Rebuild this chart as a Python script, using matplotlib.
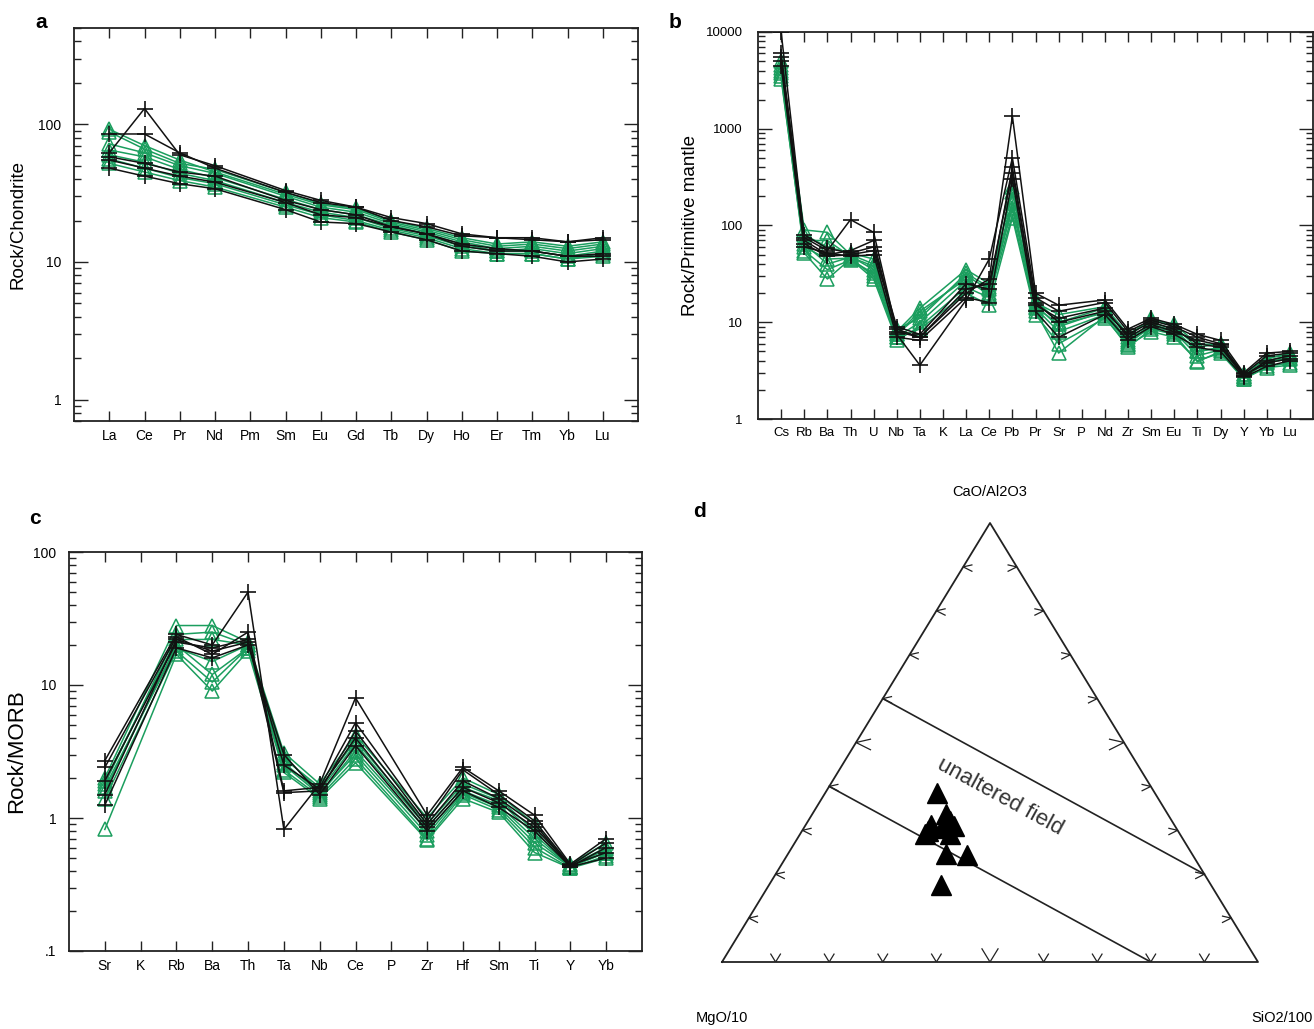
import numpy as np
import matplotlib
matplotlib.use("Agg")
import matplotlib.pyplot as plt
from matplotlib.ticker import NullLocator, LogLocator

plt.rcParams['font.family'] = ['Liberation Sans', 'DejaVu Sans']

nan = np.nan
GREEN = '#1b9e5e'

# --- a) chondrite-normalised REE ---
ree = ['La', 'Ce', 'Pr', 'Nd', 'Pm', 'Sm', 'Eu', 'Gd', 'Tb', 'Dy', 'Ho', 'Er', 'Tm', 'Yb', 'Lu']
ree_black = [
    [62, 130, 60, 50, nan, 33, 28, 25, 21, 19, 16, 15, 15, 14, 15],
    [85, 85, 62, 48, nan, 32, 27, 25, 20, 18, 15.5, 15, 14.5, 14, 14.5],
    [55, 48, 42, 38, nan, 27, 22, 21, 18, 16, 13, 12, 12, 11, 11],
    [48, 42, 37, 34, nan, 24, 19.5, 19, 16.5, 14.5, 12, 11.5, 11, 10, 10.5],
    [58, 52, 45, 42, nan, 28, 24, 22, 18, 16, 13.5, 12.5, 12, 11, 11.5],
]
ree_green = [
    [92, 70, 55, 45, nan, 31, 26, 24, 19.5, 17, 14.5, 13, 13.5, 12.5, 13.5],
    [72, 62, 50, 44, nan, 30, 25, 23, 19, 16.5, 14, 12.5, 13, 12, 13],
    [65, 58, 47, 41, nan, 28.5, 24, 22, 18.5, 16, 13.5, 12, 12.5, 11.5, 12.5],
    [60, 53, 44, 39, nan, 27, 23, 21, 17.5, 15.5, 13, 12, 12, 11, 12],
    [56, 48, 41, 37, nan, 26, 22, 20, 17, 15, 12.5, 11.5, 11.5, 10.5, 11.5],
    [52, 45, 39, 35, nan, 25, 21, 19.5, 16.5, 14.5, 12, 11.5, 11.5, 10.5, 11],
    [88, 66, 52, 47, nan, 32, 26.5, 24.5, 20, 17.5, 15, 13.5, 14, 13, 14],
]

# --- b) primitive-mantle-normalised ---
pm_el = ['Cs', 'Rb', 'Ba', 'Th', 'U', 'Nb', 'Ta', 'K', 'La', 'Ce', 'Pb', 'Pr', 'Sr', 'P',
         'Nd', 'Zr', 'Sm', 'Eu', 'Ti', 'Dy', 'Y', 'Yb', 'Lu']
pm_black = [
    [10000, 75, 55, 115, 85, 8, 7, nan, 20, 28, 1350, 20, 15, nan, 17, 8.5, 11, 9.5, 7.5, 6.5, 3, 4.8, 5],
    [6000, 70, 50, 55, 70, 7.5, 3.6, nan, 17, 45, 500, 18, 13, nan, 16, 8, 10.5, 9, 7, 6, 2.9, 4.5, 4.8],
    [5000, 65, 48, 50, 55, 8.5, 7, nan, 22, 25, 350, 16, 10, nan, 13, 7.5, 10, 8.5, 6, 5.5, 2.8, 4, 4.5],
    [4500, 60, 52, 48, 50, 7, 6.5, nan, 18, 16, 300, 13, 7, nan, 12, 6.5, 9, 7.5, 5.5, 5, 2.7, 3.5, 4],
    [5500, 80, 58, 52, 60, 9, 7.5, nan, 25, 22, 400, 15, 11, nan, 14, 7, 9.5, 8, 6.5, 5.8, 2.8, 3.8, 4.2],
]
pm_green = [
    [5000, 90, 85, 50, 40, 8, 14, nan, 35, 25, 220, 17, 10, nan, 14, 7, 11, 9, 5.5, 6, 2.9, 4.2, 4.8],
    [4200, 70, 70, 48, 35, 7.5, 12, nan, 30, 22, 180, 15, 9, nan, 13, 6.5, 10, 8.5, 5, 5.5, 2.7, 4, 4.5],
    [3800, 60, 45, 46, 30, 7, 10, nan, 27, 20, 150, 14, 8, nan, 12, 6, 9, 8, 4.5, 5.2, 2.7, 3.8, 4.2],
    [3500, 52, 28, 45, 28, 6.5, 9, nan, 23, 18, 130, 13, 4.8, nan, 11.5, 5.5, 8.5, 7.5, 3.9, 5, 2.6, 3.5, 3.8],
    [4600, 80, 60, 52, 45, 8.5, 11, nan, 32, 23, 250, 16, 12, nan, 14.5, 7.5, 10.5, 9.5, 6, 5.8, 2.9, 4.3, 4.6],
    [3300, 55, 35, 44, 32, 7, 8.5, nan, 20, 15, 120, 12, 6, nan, 11, 5.8, 8, 7, 4, 4.8, 2.6, 3.4, 3.6],
    [4000, 65, 40, 47, 38, 7.5, 13, nan, 28, 19, 170, 14.5, 9.5, nan, 12.5, 6.2, 9.5, 8.2, 5, 5.4, 2.8, 3.9, 4.3],
]

# --- c) MORB-normalised ---
morb_el = ['Sr', 'K', 'Rb', 'Ba', 'Th', 'Ta', 'Nb', 'Ce', 'P', 'Zr', 'Hf', 'Sm', 'Ti', 'Y', 'Yb']
morb_black = [
    [2.7, nan, 24, 20, 50, 0.82, 1.8, 8, nan, 1.05, 2.4, 1.6, 1.05, 0.45, 0.7],
    [2.4, nan, 23, 17, 25, 1.6, 1.7, 5.2, nan, 0.95, 2.3, 1.5, 0.95, 0.44, 0.65],
    [1.9, nan, 21, 19, 22, 1.55, 1.6, 4.5, nan, 0.9, 1.9, 1.4, 0.9, 0.43, 0.6],
    [1.25, nan, 19, 16, 20, 3.0, 1.5, 3.5, nan, 0.8, 1.6, 1.2, 0.8, 0.43, 0.5],
    [1.5, nan, 22, 18, 21, 2.5, 1.65, 4, nan, 0.85, 1.7, 1.3, 0.85, 0.44, 0.55],
]
morb_green = [
    [2.0, nan, 28, 28, 21, 3.1, 1.8, 4.2, nan, 1.0, 2.0, 1.5, 0.9, 0.45, 0.65],
    [1.8, nan, 24, 25, 20, 2.8, 1.7, 3.8, nan, 0.9, 1.8, 1.4, 0.8, 0.44, 0.6],
    [1.6, nan, 20, 12, 19, 2.5, 1.5, 3.2, nan, 0.8, 1.6, 1.25, 0.7, 0.43, 0.55],
    [0.82, nan, 17, 9, 18, 2.2, 1.4, 2.6, nan, 0.68, 1.4, 1.1, 0.55, 0.42, 0.5],
    [1.9, nan, 22, 22, 20, 2.9, 1.6, 3.6, nan, 0.85, 1.7, 1.35, 0.75, 0.43, 0.58],
    [1.4, nan, 18, 10.5, 19, 2.3, 1.45, 2.8, nan, 0.7, 1.5, 1.15, 0.6, 0.42, 0.52],
    [1.7, nan, 19, 15, 20, 2.6, 1.55, 3.0, nan, 0.75, 1.55, 1.2, 0.65, 0.43, 0.55],
]

# --- d) ternary CaO/Al2O3 - MgO/10 - SiO2/100 (fractions) ---
tern_ca = [0.384, 0.336, 0.321, 0.313, 0.299, 0.306, 0.310, 0.291, 0.291, 0.246, 0.243, 0.175]
tern_si = [0.209, 0.250, 0.265, 0.234, 0.234, 0.257, 0.278, 0.280, 0.234, 0.295, 0.335, 0.321]
# field boundaries (Ca, Si) end points
field_upper = [(0.6, 0.0), (0.2, 0.8)]
field_lower = [(0.4, 0.0), (0.0, 0.8)]


def spider(ax, elems, black, green, ylim, yticks, ylabels, ylabel, ylab_size, ylab_x):
    x = np.arange(len(elems))
    for row in black:
        v = np.array(row, float)
        m = np.isfinite(v)
        ax.plot(x[m], v[m], color='#111111', lw=1.1, marker='+', ms=12, mew=1.2, zorder=3)
    for row in green:
        v = np.array(row, float)
        m = np.isfinite(v)
        ax.plot(x[m], v[m], color=GREEN, lw=1.1, marker='^', ms=9.5, mfc='none',
                mec=GREEN, mew=1.1, zorder=2)
    ax.set_yscale('log')
    ax.set_ylim(*ylim)
    ax.set_xlim(-1, len(elems))
    ax.set_xticks(x)
    ax.set_xticklabels(elems, fontsize=10)
    ax.xaxis.set_minor_locator(NullLocator())
    ax.yaxis.set_minor_locator(LogLocator(base=10, subs=np.arange(2, 10)))
    ax.set_yticks(yticks)
    ax.set_yticklabels(ylabels, fontsize=10)
    ax.tick_params(which='both', direction='in', top=True, right=True, width=1.0, color='#222222')
    ax.tick_params(axis='x', which='major', length=7, pad=6)
    ax.tick_params(axis='y', which='major', length=10, pad=9)
    ax.tick_params(axis='y', which='minor', length=5)
    ax.set_ylabel(ylabel, fontsize=ylab_size)
    ax.yaxis.set_label_coords(ylab_x, 0.5)
    for s in ax.spines.values():
        s.set_linewidth(1.3)
        s.set_color('#222222')


fig = plt.figure(figsize=(13.14, 10.29), dpi=100)
W, H = 1314, 1029


def place(l, t, r, b):
    return [l / W, 1 - b / H, (r - l) / W, (b - t) / H]


ax_a = fig.add_axes(place(74, 28, 638, 421))
spider(ax_a, ree, ree_black, ree_green, (0.7, 500), [1, 10, 100], ['1', '10', '100'],
       'Rock/Chondrite', 13.5, -0.085)

ax_b = fig.add_axes(place(758, 32, 1313, 419))
spider(ax_b, pm_el, pm_black, pm_green, (1, 10000), [1, 10, 100, 1000, 10000],
       ['1', '10', '100', '1000', '10000'], 'Rock/Primitive mantle', 13.5, -0.106)
ax_b.tick_params(axis='x', labelsize=9.5)
ax_b.tick_params(axis='y', labelsize=9.5, pad=11)

ax_c = fig.add_axes(place(69, 552, 642, 951))
spider(ax_c, morb_el, morb_black, morb_green, (0.1, 100), [0.1, 1, 10, 100],
       ['.1', '1', '10', '100'], 'Rock/MORB', 16, -0.073)

# ternary panel
ax_d = fig.add_axes(place(722, 523, 1258, 962))
ax_d.set_xlim(0, 1)
ax_d.set_ylim(0, 1)
ax_d.axis('off')


def tern(ca, si):
    ca = np.asarray(ca, float)
    si = np.asarray(si, float)
    return si + ca / 2, ca


ax_d.plot([0, 1, 0.5, 0], [0, 0, 1, 0], color='#222222', lw=1.3, clip_on=False)
for f in np.arange(1, 10) / 10:
    L = 0.03 if abs(f - 0.5) < 1e-9 else 0.018
    # bottom edge: "v"
    px, py = tern(0, f)
    ax_d.plot([px - L * 0.5, px, px + L * 0.5], [py + L, py, py + L], color='#222222', lw=0.9)
    # left edge: "<"
    px, py = tern(f, 0)
    ax_d.plot([px + L * 0.9, px, px + L * 0.9], [py + L * 0.25, py, py - L * 0.55],
              color='#222222', lw=0.9)
    # right edge: ">"
    px, py = tern(f, 1 - f)
    ax_d.plot([px - L * 0.9, px, px - L * 0.9], [py + L * 0.25, py, py - L * 0.55],
              color='#222222', lw=0.9)

for seg in (field_upper, field_lower):
    xs, ys = tern([p[0] for p in seg], [p[1] for p in seg])
    ax_d.plot(xs, ys, color='#222222', lw=1.2)

tx, ty = tern(tern_ca, tern_si)
ax_d.plot(tx, ty, linestyle='none', marker='^', ms=14, color='black', zorder=4)

ax_d.text(0.518, 0.377, 'unaltered field', rotation=-28.6, ha='center', va='center',
          fontsize=16, color='#333333', rotation_mode='anchor')

fig.text(990 / W, 1 - 492 / H, 'CaO/Al2O3', ha='center', va='center', fontsize=10.5)
fig.text(722 / W, 1 - 1018 / H, 'MgO/10', ha='center', va='center', fontsize=10.5)
fig.text(1313 / W, 1 - 1018 / H, 'SiO2/100', ha='right', va='center', fontsize=10.5)

# panel letters
for lab, (px, py) in {'a': (41, 22), 'b': (675, 22), 'c': (35, 518), 'd': (700, 512)}.items():
    fig.text(px / W, 1 - py / H, lab, ha='center', va='center', fontsize=15, fontweight='bold')

fig.savefig('out.png', dpi=100, facecolor='white')
